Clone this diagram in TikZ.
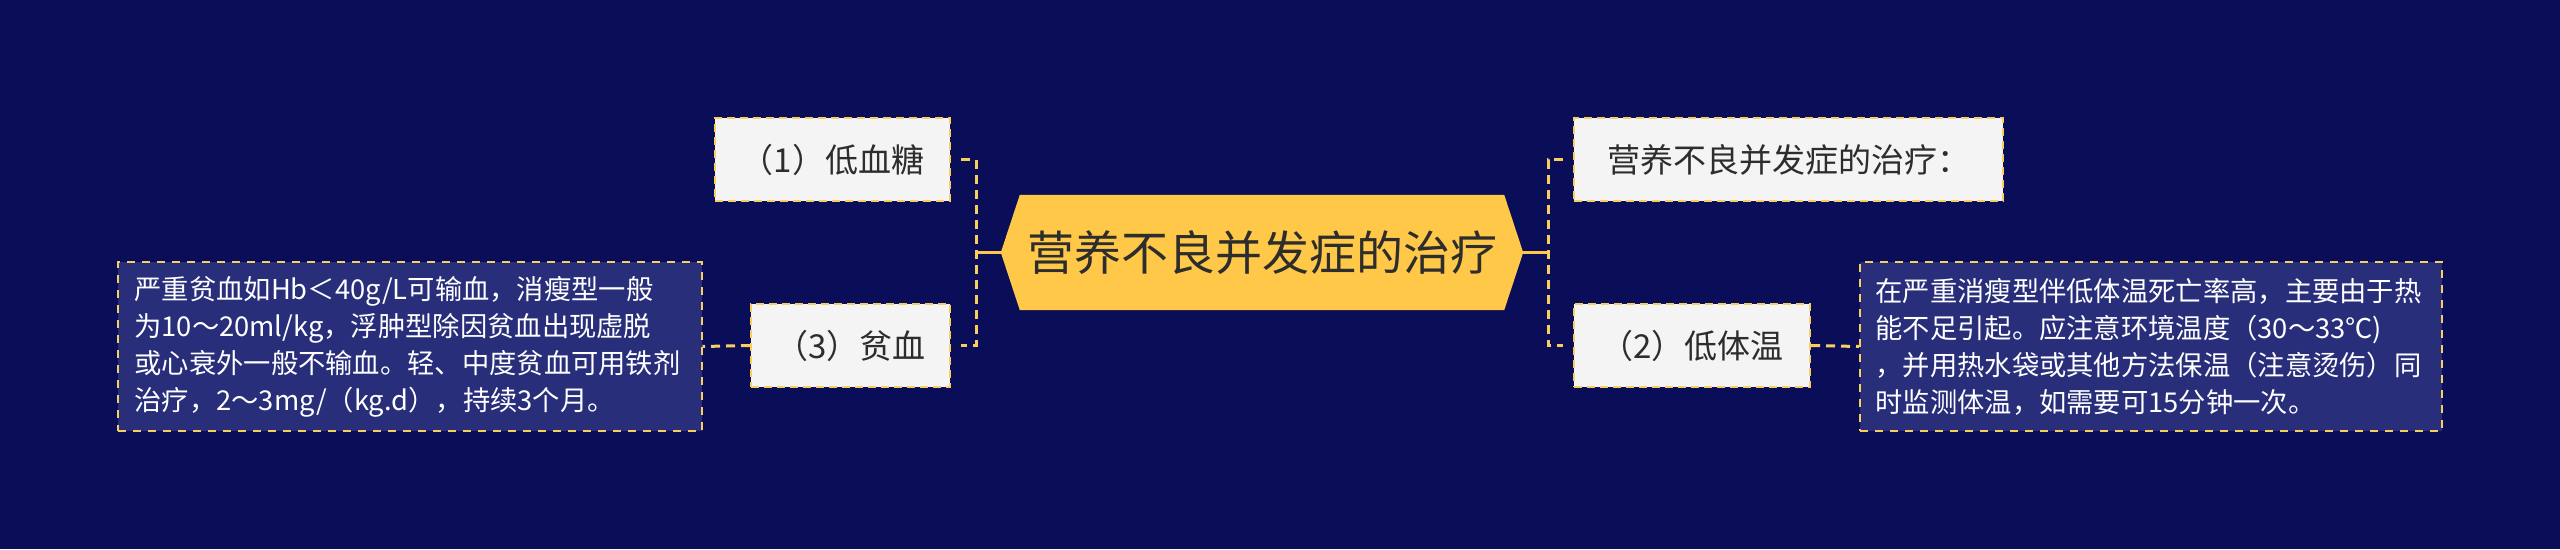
\documentclass[tikz,border=0pt]{standalone}
\usepackage{fontspec}
\setmainfont{Noto Sans CJK SC}
\usetikzlibrary{calc}
\pgfdeclarelayer{bottom}
\pgfdeclarelayer{background}
\pgfsetlayers{bottom,background,main}
\definecolor{bg}{RGB}{10,14,88}
\definecolor{yel}{RGB}{255,200,72}
\definecolor{dash}{RGB}{250,205,95}
\definecolor{light}{RGB}{244,244,245}
\definecolor{detail}{RGB}{40,46,122}
\definecolor{ink}{RGB}{45,45,45}
\tikzset{
  topicbox/.style={fill=light, draw=dash, line width=2pt, dash pattern=on 8pt off 5pt,
    text=ink, font=\fontsize{33}{40}\selectfont, minimum height=83pt, inner sep=0pt},
  detailbox/.style={fill=detail, draw=dash, line width=2pt, dash pattern=on 8pt off 7pt,
    text=white, font=\fontsize{27.3}{37}\selectfont, align=left, minimum height=169pt,
    text width=550pt, inner xsep=17pt, inner ysep=0pt},
  conn/.style={draw=dash, line width=3pt, dash pattern=on 9pt off 6pt},
}
\begin{document}
\begin{tikzpicture}[x=1pt,y=-1pt]
\begin{pgfonlayer}{bottom}
\fill[bg] (0,0) rectangle (2560,549);
\end{pgfonlayer}
\useasboundingbox (0,0) rectangle (2560,549);
% central node
\node[minimum width=522pt, minimum height=115pt, inner sep=0pt, text=ink,
  font=\fontsize{47}{52}\selectfont] (c) at (1262,252.5) {营养不良并发症的治疗};
% topics
\node[topicbox, minimum width=235pt] (n1) at (832.5,159.5) {（1）低血糖};
\node[topicbox, minimum width=199pt] (n3) at (850.5,345.5) {（3）贫血};
\node[topicbox, minimum width=429pt] (r1) at (1788.5,159.5) {营养不良并发症的治疗：};
\node[topicbox, minimum width=236pt] (n2) at (1692,345.5) {（2）低体温};
% details
\node[detailbox] (d3) at (409.5,346.5) {严重贫血如Hb＜40g/L可输血，消瘦型一般\\为10～20ml/kg，浮肿型除因贫血出现虚脱\\或心衰外一般不输血。轻、中度贫血可用铁剂\\治疗，2～3mg/（kg.d），持续3个月。};
\node[detailbox, text width=551pt, inner xsep=15.5pt] (d2) at (2151,346.5) {在严重消瘦型伴低体温死亡率高，主要由于热\\能不足引起。应注意环境温度（30～33℃)\\，并用热水袋或其他方法保温（注意烫伤）同\\时监测体温，如需要可15分钟一次。};
\begin{pgfonlayer}{background}
% connectors
\coordinate (lj) at (976,252.5);
\coordinate (rj) at (1548,252.5);
\draw[yel, line width=3pt] (c.west) -- (lj);
\draw[yel, line width=3pt] (c.east) -- (rj);
\draw[conn] ([xshift=10pt]n1.east) -| (lj |- n3.east) -- ([xshift=10pt]n3.east);
\draw[conn] ([xshift=-10pt]r1.west) -| (rj |- n2.east) -- ([xshift=-10pt]n2.west);
\draw[conn] (n3.west) -- (d3.east);
\draw[conn] (n2.east) -- (d2.west);
% hexagon
\fill[yel] (c.west) -- ($(c.north west)+(19,0)$) -- ($(c.north east)+(-19,0)$) -- (c.east)
  -- ($(c.south east)+(-19,0)$) -- ($(c.south west)+(19,0)$) -- cycle;
\end{pgfonlayer}
\end{tikzpicture}
\end{document}
